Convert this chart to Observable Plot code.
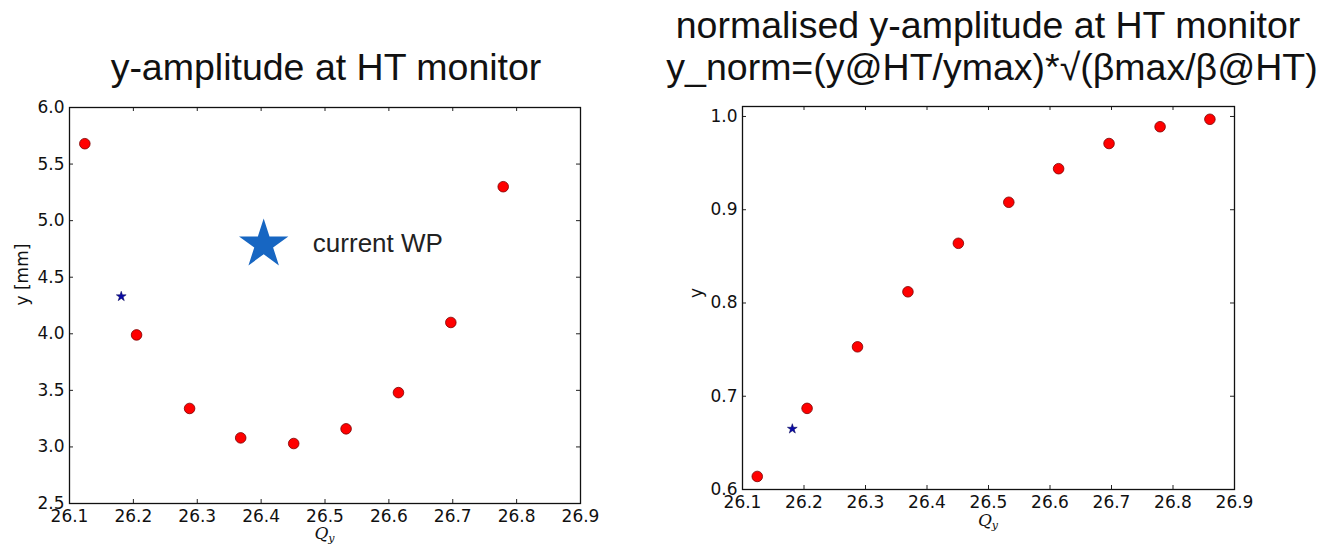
<!DOCTYPE html>
<html>
<head>
<meta charset="utf-8">
<script src="https://cdn.jsdelivr.net/npm/d3@7"></script>
<script src="https://cdn.jsdelivr.net/npm/@observablehq/plot@0.6"></script>
<style>
  html, body { margin: 0; padding: 0; background: #fff; }
  #wrap { position: relative; width: 1321px; height: 549px; overflow: hidden; background: #fff; }
  .title { position: absolute; font-family: "Liberation Sans", Arial, sans-serif; color: #111; white-space: nowrap; transform: translateX(-50%); line-height: 1; font-size: 37.5px; }
  .panel { position: absolute; top: 90px; }
</style>
</head>
<body>
<div id="wrap">
  <div class="title" id="t1" style="left:326px; top:49px;">y-amplitude at HT monitor</div>
  <div class="title" id="t2a" style="left:988px; top:7px;">normalised y-amplitude at HT monitor</div>
  <div class="title" id="t2b" style="left:992px; top:49px;">y_norm=(y@HT/ymax)*√(βmax/β@HT)</div>
  <div class="panel" id="left" style="left:0px;"></div>
  <div class="panel" id="right" style="left:660px;"></div>
</div>
<script>
// ---- data ----
const qyLeft   = [26.124, 26.205, 26.288, 26.368, 26.451, 26.533, 26.615, 26.697, 26.779];
const ampLeft  = [5.68, 3.99, 3.34, 3.08, 3.03, 3.16, 3.48, 4.10, 5.30];
const wpLeftQ  = [26.181];
const wpLeftY  = [4.33];
const legendStarQ = [26.404];
const legendStarY = [4.79];
const legendText  = ["current WP"];
const legendTextQ = [26.481];
const legendTextY = [4.80];

const qyRight  = [26.124, 26.205, 26.287, 26.369, 26.451, 26.533, 26.614, 26.696, 26.779, 26.860];
const normRight = [0.614, 0.687, 0.753, 0.812, 0.864, 0.908, 0.944, 0.971, 0.989, 0.997];
const wpRightQ = [26.181];
const wpRightY = [0.665];

const xTicks = [26.1, 26.2, 26.3, 26.4, 26.5, 26.6, 26.7, 26.8, 26.9];
const yTicksLeft = [2.5, 3.0, 3.5, 4.0, 4.5, 5.0, 5.5, 6.0];
const yTicksRight = [0.6, 0.7, 0.8, 0.9, 1.0];

const leftRows = qyLeft.map((q, i) => ({q, v: ampLeft[i]}));
const rightRows = qyRight.map((q, i) => ({q, v: normRight[i]}));
const wpLeft = wpLeftQ.map((q, i) => ({q, v: wpLeftY[i]}));
const wpRight = wpRightQ.map((q, i) => ({q, v: wpRightY[i]}));
const legStar = legendStarQ.map((q, i) => ({q, v: legendStarY[i]}));
const legTxt = legendText.map((t, i) => ({t, q: legendTextQ[i], v: legendTextY[i]}));

const tickFont = "DejaVu Sans, sans-serif";
const fmt = d3.format(".1f");

function panel({width, height, mL, mR, mT, mB, yDomain, yTicks, rows, wp, yLabel, yLabelDx, extra = []}) {
  const plotW = width - mL - mR;
  const plotH = height - mT - mB;
  const svg = Plot.plot({
    width, height,
    marginLeft: mL, marginRight: mR, marginTop: mT, marginBottom: mB,
    style: {fontFamily: tickFont, fontSize: "17px", color: "#111", background: "transparent"},
    x: {domain: [26.1, 26.9]},
    y: {domain: yDomain},
    marks: [
      Plot.axisX({ticks: xTicks, tickSize: 0, tickPadding: 6, tickFormat: fmt, label: null, fontSize: 17}),
      Plot.axisY({ticks: yTicks, tickSize: 0, tickPadding: 5, tickFormat: fmt, label: null, fontSize: 17}),
      // inward ticks on all four sides (matplotlib style)
      Plot.tickX(xTicks, {x: d => d, insetTop: plotH - 4, stroke: "#222"}),
      Plot.tickX(xTicks, {x: d => d, insetBottom: plotH - 4, stroke: "#222"}),
      Plot.tickY(yTicks, {y: d => d, insetRight: plotW - 4, stroke: "#222"}),
      Plot.tickY(yTicks, {y: d => d, insetLeft: plotW - 4, stroke: "#222"}),
      Plot.frame({stroke: "#111", strokeWidth: 1.3}),
      Plot.text([yLabel], {text: d => d, frameAnchor: "left", dx: yLabelDx, rotate: -90, fontSize: 17, fontFamily: tickFont, fill: "#111"}),
      Plot.dot(rows, {x: "q", y: "v", r: 5.3, fill: "#ff0000", stroke: "#7a0000", strokeWidth: 0.8}),
      Plot.dot(wp, {x: "q", y: "v", symbol: "star", r: 3.1, fill: "#0a0aa8", stroke: "#000050", strokeWidth: 0.5}),
      ...extra
    ]
  });
  return svg;
}

const left = panel({
  width: 620, height: 459, mL: 69, mR: 40, mT: 17, mB: 46,
  yDomain: [2.5, 6.0], yTicks: yTicksLeft, rows: leftRows, wp: wpLeft,
  yLabel: "y [mm]", yLabelDx: -47,
  extra: [
    Plot.dot(legStar, {x: "q", y: "v", symbol: "star", r: 15.5, fill: "#1766c2", stroke: "none"}),
    Plot.text(legTxt, {x: "q", y: "v", text: "t", textAnchor: "start", fontSize: 26, fontFamily: "Liberation Sans, Arial, sans-serif", fill: "#222"})
  ]
});
document.getElementById("left").appendChild(left);

const right = panel({
  width: 661, height: 459, mL: 82, mR: 87, mT: 16, mB: 60,
  yDomain: [0.6, 1.0107], yTicks: yTicksRight, rows: rightRows, wp: wpRight,
  yLabel: "y", yLabelDx: -46
});
document.getElementById("right").appendChild(right);

// x-axis label  Q_y  (italic serif with subscript)
function addQy(svg, cx, y) {
  const t = d3.select(svg).append("text")
    .attr("x", cx).attr("y", y)
    .attr("text-anchor", "middle")
    .attr("font-family", "DejaVu Serif, serif")
    .attr("font-style", "italic")
    .attr("font-size", 17)
    .attr("fill", "#111");
  t.append("tspan").text("Q");
  t.append("tspan").attr("font-size", 11).attr("dy", 3).text("y");
}
addQy(left, 69 + (620 - 69 - 40) / 2, 449);
addQy(right, 82 + (661 - 82 - 87) / 2, 436);
</script>
</body>
</html>
